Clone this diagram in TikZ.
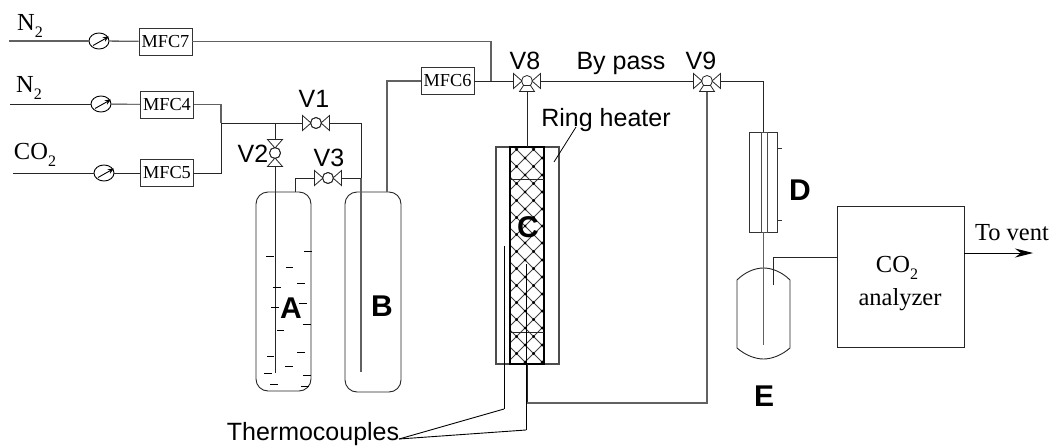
\documentclass[tikz,border=0pt]{standalone}
\usepackage{fontspec}
\setmainfont{Liberation Serif}
\newfontfamily\arialf{Liberation Sans}
\usetikzlibrary{shapes.geometric,arrows.meta}
\newcommand{\subtwo}{\raisebox{-.3em}{\fontsize{16}{16}\selectfont 2}}
\tikzset{
  pipe/.style={line width=0.9pt,draw=black!85},
  pipeg/.style={line width=1.3pt,draw=black!62},
  mfc/.style={draw=black!80,line width=0.9pt,rectangle,minimum width=53pt,minimum height=27pt,inner sep=0pt,font=\fontsize{18.3}{20}\selectfont},
  gauge/.style={draw=black,line width=0.9pt,ellipse,minimum width=20pt,minimum height=16pt,inner sep=0pt},
  vcirc/.style={draw=black!85,line width=0.8pt,circle,minimum size=11pt,inner sep=0pt},
  vtri/.style={draw=black!85,line width=0.8pt,fill=white},
  vessel/.style={draw=black!85,line width=0.9pt,rectangle,rounded corners=12pt,inner sep=0pt},
  arial/.style={font=\arialf\fontsize{25}{27}\selectfont,inner sep=0pt},
  arialb/.style={font=\arialf\bfseries\fontsize{30}{32}\selectfont,inner sep=0pt},
  times/.style={font=\fontsize{24.5}{26}\selectfont,inner sep=0pt},
  tick/.style={line width=0.9pt,draw=black!80},
}
\newcommand{\gaugearrow}[1]{\draw[line width=0.9pt,-{Stealth[length=6pt,width=5pt]}] ([shift={(-6,4.5)}]#1.center) -- ([shift={(10,-4.5)}]#1.center);}
\newcommand{\valveLR}[1]{
  \draw[vtri] ([shift={(-5,0)}]#1.center) -- ([shift={(-13.5,-7.5)}]#1.center) -- ([shift={(-13.5,7.5)}]#1.center) -- cycle;
  \draw[vtri] ([shift={(5,0)}]#1.center) -- ([shift={(13.5,-7.5)}]#1.center) -- ([shift={(13.5,7.5)}]#1.center) -- cycle;
}
\newcommand{\valveUD}[1]{
  \draw[vtri] ([shift={(0,-5)}]#1.center) -- ([shift={(-7.5,-13.5)}]#1.center) -- ([shift={(7.5,-13.5)}]#1.center) -- cycle;
  \draw[vtri] ([shift={(0,5)}]#1.center) -- ([shift={(-7.5,13.5)}]#1.center) -- ([shift={(7.5,13.5)}]#1.center) -- cycle;
}
\newcommand{\valveBot}[1]{
  \draw[vtri] ([shift={(-3.5,4.5)}]#1.center) -- ([shift={(-7.5,10.5)}]#1.center) -- ([shift={(7.5,10.5)}]#1.center) -- ([shift={(3.5,4.5)}]#1.center) -- cycle;
}
\begin{document}
\begin{tikzpicture}[x=1pt,y=-1pt]
\useasboundingbox (0,0) rectangle (1052,447);
% inlets
\coordinate (in7) at (9,41);
\coordinate (in4) at (10,104);
\coordinate (in5) at (13,173);
\node[gauge] (g7) at (99,41) {};
\node[gauge] (g4) at (101,104) {};
\node[gauge] (g5) at (104,173) {};
\node[mfc] (mfc7) at (165.5,41.5) {MFC7};
\node[mfc] (mfc4) at (167,104.5) {MFC4};
\node[mfc] (mfc5) at (167,173) {MFC5};
\node[mfc] (mfc6) at (447.5,81) {MFC6};
\node[times,anchor=center] at (30,26) {N\subtwo};
\node[times,anchor=center] at (29,88) {N\subtwo};
\node[times,anchor=center] at (35,155) {CO\subtwo};
% valves
\node[vcirc] (v1) at (316,123) {};
\node[vcirc] (v2) at (275,153) {};
\node[vcirc] (v3) at (328,178) {};
\node[vcirc] (v8) at (527,81) {};
\node[vcirc] (v9) at (707,81) {};
% vessels
\node[vessel,minimum width=55pt,minimum height=199pt] (A) at (283.5,291.5) {};
\node[vessel,minimum width=56pt,minimum height=200pt] (B) at (373,292) {};
% reactor
\node[draw=black!70,line width=1.1pt,rectangle,minimum width=63pt,minimum height=217pt,inner sep=0pt] (reactor) at (527.5,255.5) {};
\begin{scope}
  \clip (510,147) rectangle (544,364);
  \foreach \k in {-30,...,30} {
    \draw[line width=0.8pt,black!75] (525+17*\k-300,243-300) -- (525+17*\k+300,243+300);
    \draw[line width=0.8pt,black!75] (525+17*\k+300,243-300) -- (525+17*\k-300,243+300);
  }
  \foreach \i in {-2,...,2} \foreach \j in {-6,...,8} {
    \fill (525+17*\i,243+17*\j) circle (1.5pt);
    \fill (525+17*\i+8.5,243+17*\j+8.5) circle (1.5pt);
  }
\end{scope}
\node[draw=black,line width=1.1pt,rectangle,minimum width=34pt,minimum height=217pt,inner sep=0pt] (bed) at (527,255.5) {};
\coordinate (div1l) at (510,179); \coordinate (div1r) at (544,179);
\coordinate (div2l) at (510,332); \coordinate (div2r) at (544,332);
\draw[pipe] (div1l) -- (div1r);
\draw[pipe] (div2l) -- (div2r);
% flowmeter D
\node[draw=black!80,line width=1pt,rectangle,minimum width=28pt,minimum height=100pt,inner sep=0pt] (D) at (763,182) {};
\node[draw=black!70,line width=1pt,rectangle,minimum width=6pt,minimum height=100pt,inner sep=0pt] (Dtube) at (764,182) {};
\draw[tick] (777,148) -- (782,148);
\draw[tick] (777,220) -- (782,220);
% vessel E
\coordinate (Etop) at (763.5,268);
\draw[pipe] (737,280) .. controls (745,272) and (755,268) .. (Etop) .. controls (772,268) and (782,272) .. (790,280) -- (790,348) .. controls (782,355) and (772,359) .. (763.5,359) .. controls (755,359) and (745,355) .. (737,348) -- cycle;
% analyzer
\node[draw=black!85,line width=1pt,rectangle,minimum width=127pt,minimum height=141pt,inner sep=0pt] (an) at (900.5,276.5) {};
\node[times,anchor=center] at (897,268) {CO\subtwo};
\node[times,anchor=center] at (900,300) {analyzer};
% connectors
\draw[pipeg] (in7) -- (g7);
\draw[pipeg] (g7) -- (mfc7);
\coordinate (j78) at (491,81);
\draw[pipeg] (mfc7.east) -- (491,41.5) -- (j78);
\draw[pipe] (in4) -- (g4);
\draw[pipe] (g4) -- (mfc4);
\draw[pipe] (in5) -- (g5);
\draw[pipe] (g5) -- (mfc5);
\coordinate (j45) at (221,123);
\draw[pipeg] (mfc4.east) -| (j45);
\draw[pipe] (mfc5.east) -| (j45);
\coordinate (j2) at (275,123);
\draw[pipe] (j45) -- (v1.west);
\draw[pipe] (j2) -- (v2.north);
\coordinate (jB) at (361,123);
\coordinate (jB3) at (361,178);
\coordinate (dipB) at (361,372);
\coordinate (dipA) at (275,373);
\draw[pipe] (v1.east) -- (jB) -- (jB3);
\draw[pipeg] (jB3) -- (dipB);
\draw[pipe] (v2.south) -- (dipA);
\coordinate (aTop) at (295,192);
\draw[pipe] (aTop) |- (v3.west);
\draw[pipe] (v3.east) -- (jB3);
\coordinate (bTop) at (387,192);
\draw[pipeg] (bTop) |- (mfc6.west);
\draw[pipe] (mfc6.east) -- (v8.west);
\draw[pipe] (v8.east) -- (v9.west);
\draw[pipe] (v8.south) -- (527,147);
\draw[pipe] (v9.east) -| (763,132);
\draw[pipeg] (763.5,232) -- (763.5,345);
\coordinate (tc3) at (527,403);
\draw[pipe] (527,364) -- (tc3);
\draw[pipeg] (tc3) -| (v9.south);
\coordinate (tc1a) at (504,246); \coordinate (tc1b) at (504,409);
\coordinate (tc2a) at (526,264); \coordinate (tc2b) at (526,430);
\draw[line width=1pt] (tc1a) -- (tc1b);
\draw[line width=1pt] (tc2a) -- (tc2b);
\coordinate (Eout) at (773,285);
\draw[pipe] (Eout) |- (837,257);
\draw[line width=1pt,-{Stealth[length=18pt,width=9pt]}] (964,253) -- (1033,253);
% valves on top
\node[vcirc] at (v1) {}; \valveLR{v1}
\node[vcirc] at (v2) {}; \valveUD{v2}
\node[vcirc] at (v3) {}; \valveLR{v3}
\valveLR{v8}\valveBot{v8}
\valveLR{v9}\valveBot{v9}
% gauges
\gaugearrow{g7}\gaugearrow{g4}\gaugearrow{g5}
% liquid dashes in A
\foreach \xa/\xb/\yy in {138/162/229,198/220/262,253/275/215,231/254/310,158/182/323,153/177/381,238/261/370,248/272/432,171/193/450,232/255/517,141/163/530,196/219/558,132/156/580,250/274/585,150/174/613,243/268/620}
  \draw[line width=0.9pt] (220+\xa/3,180+\yy/3) -- (220+\xb/3,180+\yy/3);
% labels
\node[arial] at (314,99) {V1};
\node[arial] at (253,154) {V2};
\node[arial] at (329,158) {V3};
\node[arial] at (525,61) {V8};
\node[arial] at (701,61) {V9};
\node[arial] at (621,63) {By pass};
\node[arial] (rh) at (606,120) {Ring heater};
\draw[line width=0.8pt] (576,127) -- (554,162);
\node[arial,anchor=base] (tc) at (313,440.5) {Thermocouples};
\coordinate (tcj) at (399,439);
\draw[line width=0.9pt] (tcj) -- (tc1b);
\draw[line width=0.9pt] (tcj) -- (tc2b);
\node[arialb] at (291,308) {A};
\node[arialb] at (382,306) {B};
\node[arialb] at (528,227) {C};
\node[arialb] at (800,190) {D};
\node[arialb] at (764,396) {E};
\node[times] at (1012,233) {To vent};
\end{tikzpicture}
\end{document}
